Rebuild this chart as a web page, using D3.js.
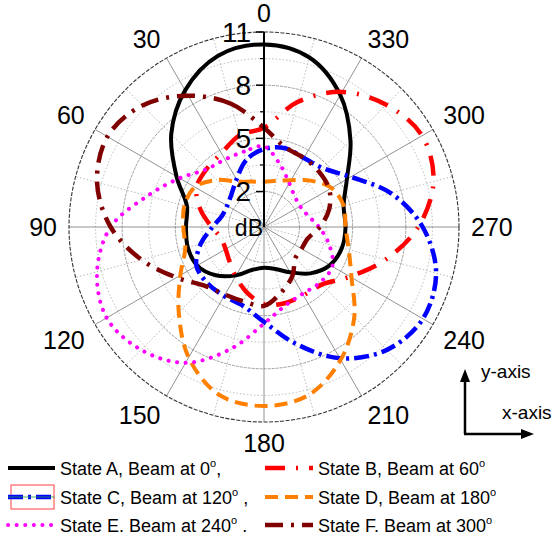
<!DOCTYPE html>
<html>
<head>
<meta charset="utf-8">
<script src="https://cdn.jsdelivr.net/npm/d3@7/dist/d3.min.js"></script>
<style>
body { margin: 0; background: #fff; }
text { font-family: Arial, "Liberation Sans", sans-serif; fill: #000; }
</style>
</head>
<body>
<svg id="chart" width="559" height="540"></svg>
<script>
// angles in degrees (0 at top, counter-clockwise), values in dB
const angles = [0, 15, 30, 45, 60, 75, 90, 105, 120, 135, 150, 165,
                180, 195, 210, 225, 240, 255, 270, 285, 300, 315, 330, 345];

const stateA = [10.3, 10.0, 8.9, 7.4, 5.7, 4.5, 4.4, 4.45, 4.35, 3.85, 3.15, 2.5,
                2.3, 2.45, 2.95, 3.7, 4.3, 4.55, 4.6, 4.65, 5.4, 6.9, 8.6, 9.9];
const stateB = [5.6, 5.35, 4.8, 4.6, 4.4, 3.7, 2.95, 2.5, 2.5, 2.75, 3.2, 3.8,
                4.35, 4.45, 4.45, 4.6, 5.6, 7.1, 8.7, 9.9, 10.3, 9.75, 8.8, 7.3];
const stateC = [4.4, 3.9, 3.1, 2.6, 2.4, 2.45, 2.9, 3.7, 4.4, 4.5, 4.5, 4.6,
                5.35, 6.8, 8.55, 9.8, 10.35, 10.05, 8.95, 7.4, 5.65, 4.7, 4.5, 4.6];
const stateD = [2.55, 2.65, 2.95, 3.75, 4.5, 4.65, 4.55, 4.6, 5.45, 6.8, 8.5, 9.8,
                10.1, 9.8, 8.65, 7.2, 5.7, 4.95, 4.6, 4.65, 4.4, 3.7, 3.05, 2.7];
const stateE = [4.55, 4.4, 4.4, 4.6, 5.5, 6.8, 8.65, 9.75, 10.25, 9.8, 8.85, 7.1,
                5.45, 4.6, 4.35, 4.45, 4.45, 3.8, 3.1, 2.55, 2.35, 2.45, 2.85, 3.6];
const stateF = [5.6, 7.2, 8.55, 9.7, 10.2, 9.75, 8.65, 7.15, 5.7, 4.7, 4.4, 4.35,
                4.45, 3.8, 3.2, 2.5, 2.45, 2.55, 3.15, 3.8, 4.25, 4.4, 4.5, 4.65];

const angleTicks = [0, 30, 60, 90, 120, 150, 180, 210, 240, 270, 300, 330];
const radialMajor = [2, 5, 8, 11];
const radialMinor = [3.5, 6.5, 9.5];

const legendNames = ["State A, Beam at 0", "State B, Beam at 60", "State C, Beam at 120",
                     "State D, Beam at 180", "State E. Beam at 240", "State F. Beam at 300"];
const legendTails = [",", "", " ,", "", " .", ""];

const series = [
  { values: stateA, color: "#000000", width: 4,   dash: null },
  { values: stateB, color: "#ff0000", width: 4.5, dash: "20,11,2,11" },
  { values: stateC, color: "#0000ff", width: 4.5, dash: "15,5,3,5" },
  { values: stateD, color: "#ff8000", width: 4,   dash: "13,7" },
  { values: stateE, color: "#ff00ff", width: 4,   dash: "0.1,8.5", cap: "round" },
  { values: stateF, color: "#800000", width: 4.5, dash: "18,8,3,8" }
];

const svg = d3.select("#chart");
const cx = 264, cy = 227, R = 195;
const r = d3.scaleLinear().domain([0, 11]).range([0, R]);
const rad = d => d * Math.PI / 180;
// position for a polar point, angle counter-clockwise from top
const px = (a, v) => cx - r(v) * Math.sin(rad(a));
const py = (a, v) => cy - r(v) * Math.cos(rad(a));

const g = svg.append("g");

// grid circles
g.selectAll(".minorCircle").data(radialMinor).enter().append("circle")
  .attr("cx", cx).attr("cy", cy).attr("r", d => r(d))
  .attr("fill", "none").attr("stroke", "#aaa").attr("stroke-width", 0.8)
  .attr("stroke-dasharray", "1.5,2");
g.selectAll(".majorCircle").data(radialMajor.slice(0, 3)).enter().append("circle")
  .attr("cx", cx).attr("cy", cy).attr("r", d => r(d))
  .attr("fill", "none").attr("stroke", "#888").attr("stroke-width", 0.8)
  .attr("stroke-dasharray", "3,1");

// spokes
const spokes = d3.range(0, 360, 15);
g.selectAll(".spoke").data(spokes).enter().append("line")
  .attr("x1", cx).attr("y1", cy)
  .attr("x2", d => px(d, 11)).attr("y2", d => py(d, 11))
  .attr("stroke", d => d % 30 == 0 ? "#777" : "#aaa")
  .attr("stroke-width", 0.8)
  .attr("stroke-dasharray", d => d % 30 == 0 ? null : "1.5,2");

// outer circle
g.append("circle").attr("cx", cx).attr("cy", cy).attr("r", r(11))
  .attr("fill", "none").attr("stroke", "#333").attr("stroke-width", 1.1)
  .attr("stroke-dasharray", "4,1.5");

// curves
const line = d3.lineRadial()
  .angle(d => -rad(d[0]))
  .radius(d => r(d[1]))
  .curve(d3.curveCatmullRomClosed.alpha(0.5));

series.forEach(function(s) {
  const pts = angles.map((a, i) => [a, s.values[i]]);
  g.append("path")
    .attr("transform", "translate(" + cx + "," + cy + ")")
    .attr("d", line(pts))
    .attr("fill", "none")
    .attr("stroke", s.color)
    .attr("stroke-width", s.width)
    .attr("stroke-linecap", s.cap || "butt")
    .attr("stroke-dasharray", s.dash);
});

// radial axis
g.append("line").attr("x1", cx).attr("y1", cy).attr("x2", cx).attr("y2", cy - r(11))
  .attr("stroke", "#000").attr("stroke-width", 2);
g.selectAll(".majTick").data(radialMajor).enter().append("line")
  .attr("x1", cx - 8).attr("x2", cx)
  .attr("y1", d => cy - r(d)).attr("y2", d => cy - r(d))
  .attr("stroke", "#000").attr("stroke-width", 1.5);
g.selectAll(".minTick").data(radialMinor).enter().append("line")
  .attr("x1", cx - 4).attr("x2", cx)
  .attr("y1", d => cy - r(d)).attr("y2", d => cy - r(d))
  .attr("stroke", "#000").attr("stroke-width", 1.2);
g.selectAll(".rLabel").data(radialMajor).enter().append("text")
  .attr("x", cx - 13).attr("y", d => cy - r(d))
  .attr("text-anchor", "end").attr("dominant-baseline", "central")
  .style("font-size", "28px")
  .text(d => d);
g.append("text").attr("x", cx - 1).attr("y", cy + 1)
  .attr("text-anchor", "end").attr("dominant-baseline", "central")
  .style("font-size", "23px").text("dB");

// angle labels: the near corner of each label sits on a circle round the plot
const capH = 18;
angleTicks.forEach(function(a) {
  const s = Math.sin(rad(a)), c = Math.cos(rad(a));
  const x = cx - 207 * s, y = cy - 207 * c;
  let anchor = "middle";
  if (s > 0.01) anchor = "end";
  else if (s < -0.01) anchor = "start";
  let base = y + capH / 2;
  if (c > 0.01) base = y;
  else if (c < -0.01) base = y + capH;
  base = Math.max(base, 22);
  g.append("text")
    .attr("x", x).attr("y", base)
    .attr("text-anchor", anchor)
    .style("font-size", "25px").text(a);
});

// axis orientation arrows
const arr = svg.append("g");
arr.append("line").attr("x1", 465).attr("y1", 434).attr("x2", 465).attr("y2", 380)
  .attr("stroke", "#000").attr("stroke-width", 2.5);
arr.append("line").attr("x1", 464).attr("y1", 434).attr("x2", 522).attr("y2", 434)
  .attr("stroke", "#000").attr("stroke-width", 2.5);
arr.append("path").attr("d", "M465,369 L460,382 L470,382 Z").attr("fill", "#000");
arr.append("path").attr("d", "M534,434 L521,429 L521,439 Z").attr("fill", "#000");
arr.append("text").attr("x", 481).attr("y", 378).style("font-size", "19px").text("y-axis");
arr.append("text").attr("x", 502).attr("y", 419).style("font-size", "19px").text("x-axis");

// legend
const leg = svg.append("g");
const rowY = [468, 497, 525];
const colX = [[8, 55, 60], [265, 313, 318]];
series.forEach(function(s, i) {
  const row = Math.floor(i / 2), col = i % 2;
  const y = rowY[row], c = colX[col];
  if (i == 2) {
    leg.append("rect").attr("x", 11).attr("y", y - 12).attr("width", 43).attr("height", 24)
      .attr("fill", "none").attr("stroke", "#ff4040").attr("stroke-width", 1);
  }
  leg.append("line").attr("x1", c[0]).attr("x2", c[1]).attr("y1", y).attr("y2", y)
    .attr("stroke", s.color).attr("stroke-width", s.width)
    .attr("stroke-linecap", s.cap || "butt")
    .attr("stroke-dasharray", s.dash);
  if (i == 2) {
    leg.append("line").attr("x1", c[0]).attr("x2", c[1]).attr("y1", y).attr("y2", y)
      .attr("stroke", "#2a9d4a").attr("stroke-width", 0.8);
  }
  const t = leg.append("text").attr("x", c[2]).attr("y", y + 6.5).style("font-size", "18px");
  t.append("tspan").text(legendNames[i]);
  t.append("tspan").attr("dy", -8).style("font-size", "11px").text("o");
  t.append("tspan").attr("dy", 8).text(legendTails[i]);
});
</script>
</body>
</html>
